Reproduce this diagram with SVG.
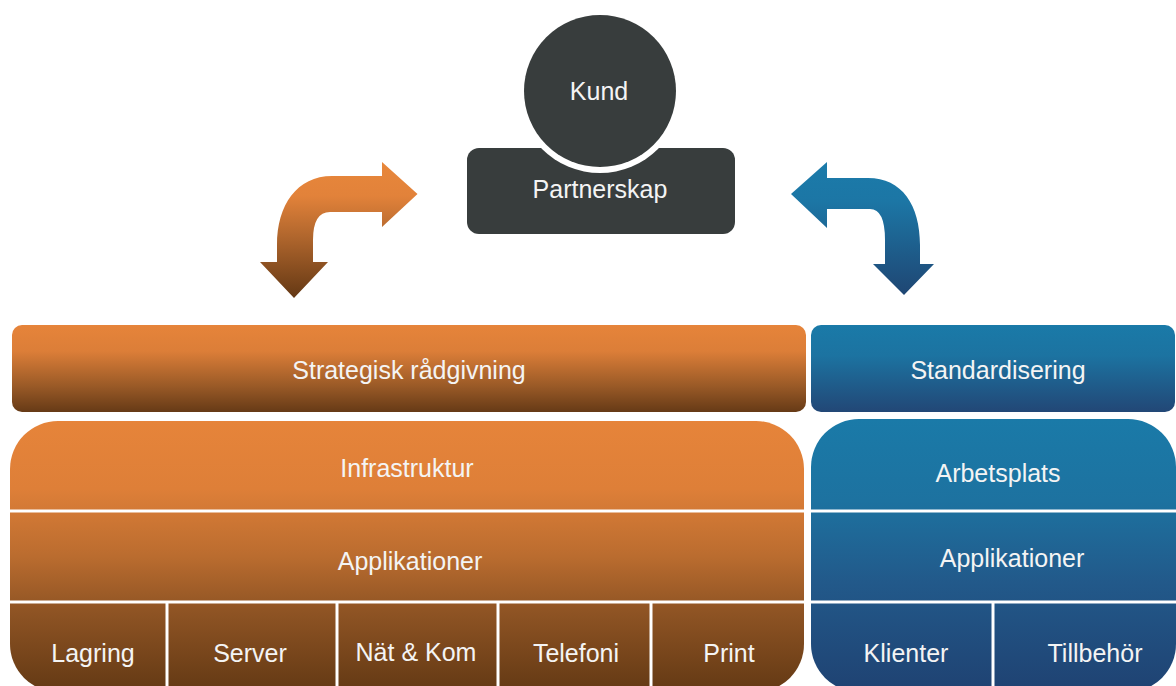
<svg xmlns="http://www.w3.org/2000/svg" width="1176" height="686" viewBox="0 0 1176 686">
<defs>
<linearGradient id="gOrSmall" x1="0" y1="0" x2="0" y2="1">
<stop offset="0" stop-color="#E6843A"/><stop offset="0.3" stop-color="#DC7E38"/><stop offset="0.7" stop-color="#9A5A27"/><stop offset="1" stop-color="#663A16"/>
</linearGradient>
<linearGradient id="gBlSmall" x1="0" y1="0" x2="0" y2="1">
<stop offset="0" stop-color="#1A7AA8"/><stop offset="0.35" stop-color="#1C73A1"/><stop offset="1" stop-color="#224776"/>
</linearGradient>
<linearGradient id="gOrBig" gradientUnits="userSpaceOnUse" x1="0" y1="421" x2="0" y2="692">
<stop offset="0" stop-color="#E6843A"/><stop offset="0.25" stop-color="#DE7F38"/><stop offset="0.5" stop-color="#BA6C2F"/><stop offset="0.7" stop-color="#8F5424"/><stop offset="1" stop-color="#633914"/>
</linearGradient>
<linearGradient id="gBlBig" gradientUnits="userSpaceOnUse" x1="0" y1="419" x2="0" y2="692">
<stop offset="0" stop-color="#1A7AA8"/><stop offset="0.3" stop-color="#1D72A0"/><stop offset="0.6" stop-color="#22598A"/><stop offset="1" stop-color="#1F4272"/>
</linearGradient>
<linearGradient id="gOrArrow" gradientUnits="userSpaceOnUse" x1="0" y1="162" x2="0" y2="298">
<stop offset="0" stop-color="#E8873B"/><stop offset="0.25" stop-color="#E2823A"/><stop offset="0.55" stop-color="#B0662D"/><stop offset="1" stop-color="#643814"/>
</linearGradient>
<linearGradient id="gBlArrow" gradientUnits="userSpaceOnUse" x1="0" y1="162" x2="0" y2="295">
<stop offset="0" stop-color="#1B7BAA"/><stop offset="0.3" stop-color="#1C76A5"/><stop offset="1" stop-color="#1F4673"/>
</linearGradient>
</defs>
<style>
text{font-family:"Liberation Sans",Arial,sans-serif;font-size:25px;fill:#F4F4F4;text-anchor:middle}
.sep{stroke:#FFFFFF;stroke-width:3}
.dark{fill:#383D3D}
</style>
<rect width="1176" height="686" fill="#FFFFFF"/>

<g id="connectors">
<path id="arrow-left" fill="url(#gOrArrow)" d="M382,176 L382,162 L417.5,194 L382,227 L382,212 L330,212 Q313,212 313,240 L313,262 L328,262 L294,298 L260,262 L277,262 L277,245 C277,205 297,176 332,176 Z"/>
<path id="arrow-right" fill="url(#gBlArrow)" d="M827,178 L827,162 L791,194 L827,228 L827,209 L870,209 Q885,209 885,240 L885,264 L873,264 L904,295 L934,264 L920,264 L920,245 C920,205 902,178 868,178 Z"/>
</g>

<g id="partnerskap">
<rect class="dark" x="467" y="148" width="268" height="86" rx="12"/>
<text x="600" y="198">Partnerskap</text>
</g>
<g id="kund">
<circle cx="600" cy="91" r="82" fill="#FFFFFF"/>
<circle class="dark" cx="600" cy="91" r="76"/>
<text x="599" y="100">Kund</text>
</g>

<g id="strategisk">
<rect x="12" y="325" width="794" height="87" rx="10" fill="url(#gOrSmall)"/>
<text x="409" y="379">Strategisk rådgivning</text>
</g>
<g id="standardisering">
<rect x="811" y="325" width="364" height="87" rx="10" fill="url(#gBlSmall)"/>
<text x="998" y="379">Standardisering</text>
</g>

<g id="infra-block">
<rect x="10" y="421" width="794" height="271" rx="48" fill="url(#gOrBig)"/>
<line class="sep" x1="10" y1="511" x2="804" y2="511"/>
<line class="sep" x1="10" y1="602" x2="804" y2="602"/>
<line class="sep" x1="167" y1="602" x2="167" y2="692"/>
<line class="sep" x1="337" y1="602" x2="337" y2="692"/>
<line class="sep" x1="498" y1="602" x2="498" y2="692"/>
<line class="sep" x1="651" y1="602" x2="651" y2="692"/>
</g>
<g id="infrastruktur"><text x="407" y="477">Infrastruktur</text></g>
<g id="applikationer-infra"><text x="410" y="570">Applikationer</text></g>
<g id="lagring"><text x="93" y="662">Lagring</text></g>
<g id="server"><text x="250" y="662">Server</text></g>
<g id="natkom"><text x="416" y="661">Nät &amp; Kom</text></g>
<g id="telefoni"><text x="576" y="662">Telefoni</text></g>
<g id="print"><text x="729" y="662">Print</text></g>

<g id="arbetsplats-block">
<rect x="811" y="419" width="365" height="273" rx="48" fill="url(#gBlBig)"/>
<line class="sep" x1="811" y1="511" x2="1176" y2="511"/>
<line class="sep" x1="811" y1="602" x2="1176" y2="602"/>
<line class="sep" x1="993" y1="602" x2="993" y2="692"/>
</g>
<g id="arbetsplats"><text x="998" y="482">Arbetsplats</text></g>
<g id="applikationer-arb"><text x="1012" y="567">Applikationer</text></g>
<g id="klienter"><text x="906" y="662">Klienter</text></g>
<g id="tillbehor"><text x="1095" y="662">Tillbehör</text></g>
</svg>
